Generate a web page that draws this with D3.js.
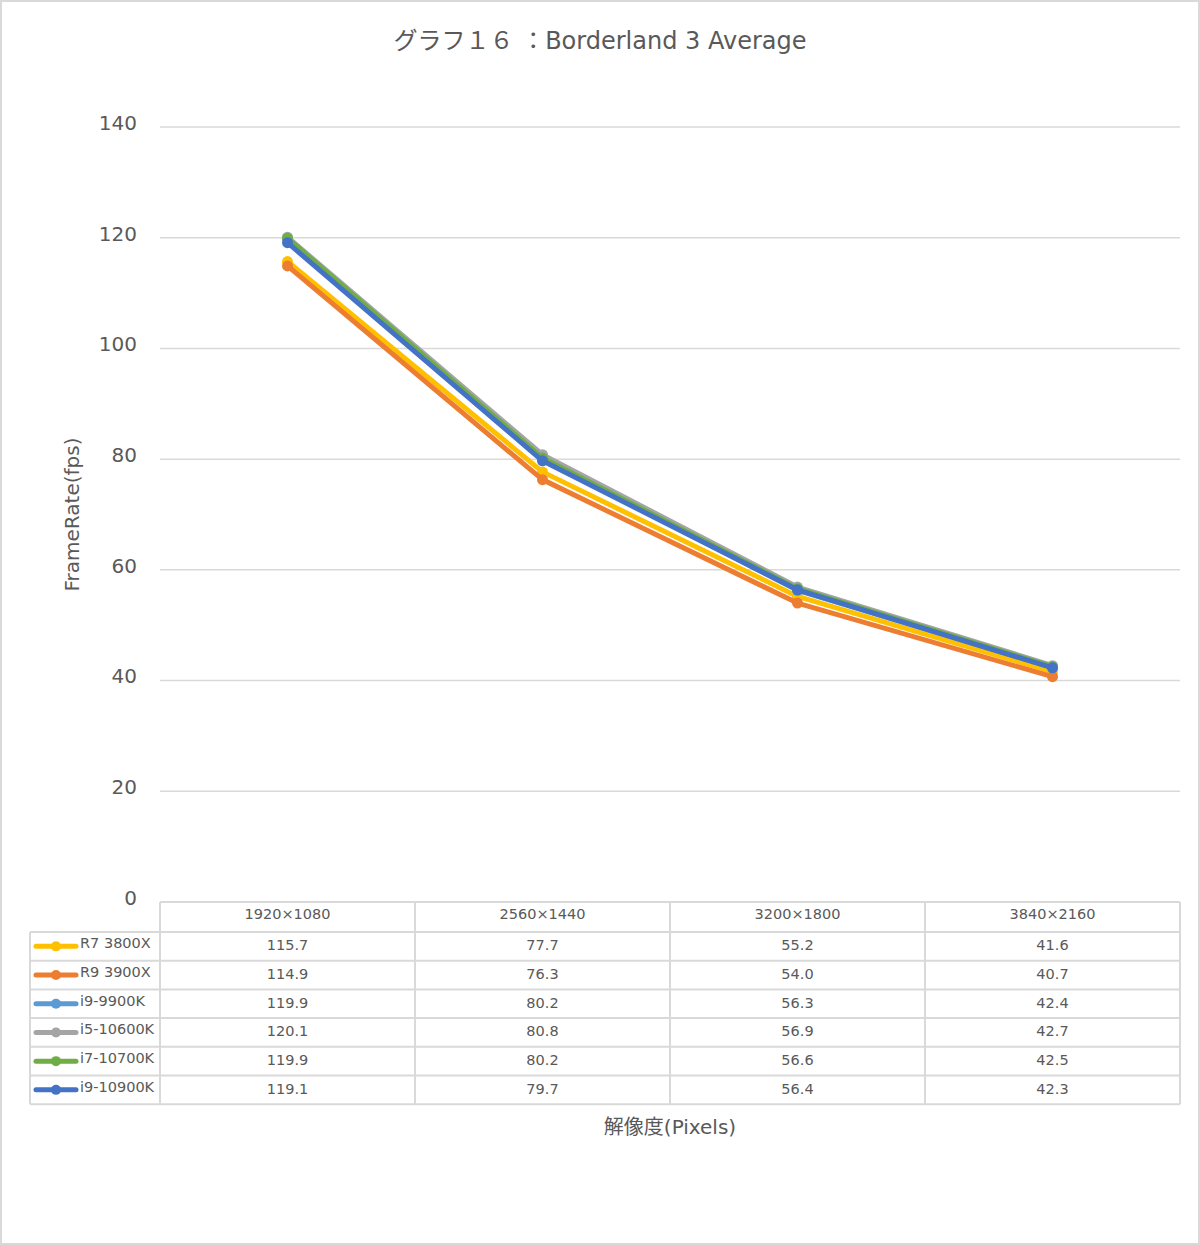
<!DOCTYPE html>
<html>
<head>
<meta charset="utf-8">
<script src="https://cdn.jsdelivr.net/npm/d3@7"></script>
<style>
  body { margin: 0; background: #fff; }
  text { font-family: "DejaVu Sans", "Noto Sans CJK JP", sans-serif; fill: #595959; }
</style>
</head>
<body>
<script>
// data
const resolutions = ["1920×1080", "2560×1440", "3200×1800", "3840×2160"];
const cpuNames = ["R7 3800X", "R9 3900X", "i9-9900K", "i5-10600K", "i7-10700K", "i9-10900K"];
const r7_3800x = [115.7, 77.7, 55.2, 41.6];
const r9_3900x = [114.9, 76.3, 54.0, 40.7];
const i9_9900k = [119.9, 80.2, 56.3, 42.4];
const i5_10600k = [120.1, 80.8, 56.9, 42.7];
const i7_10700k = [119.9, 80.2, 56.6, 42.5];
const i9_10900k = [119.1, 79.7, 56.4, 42.3];
const yTicks = [0, 20, 40, 60, 80, 100, 120, 140];
const colors = ["#FFC000", "#ED7D31", "#5B9BD5", "#A5A5A5", "#70AD47", "#4472C4"];

const series = cpuNames.map((name, i) => ({
    name: name,
    color: colors[i],
    values: [r7_3800x, r9_3900x, i9_9900k, i5_10600k, i7_10700k, i9_10900k][i]
}));

const canvWidth = 1200, canvHeight = 1245;
const svg = d3.select("body").append("svg")
    .attr("width", canvWidth)
    .attr("height", canvHeight);

// outer frame
svg.append("rect")
    .attr("x", 1).attr("y", 1)
    .attr("width", canvWidth - 2).attr("height", canvHeight - 2)
    .attr("fill", "#fff")
    .attr("stroke", "#d9d9d9")
    .attr("stroke-width", 2);

// plot area
const plot = {left: 160, right: 1180, top: 127, bottom: 902};

const xScale = d3.scaleBand()
    .domain(resolutions)
    .range([plot.left, plot.right]);

const yScale = d3.scaleLinear()
    .domain([0, 140])
    .range([plot.bottom, plot.top]);

// title
svg.append("text")
    .attr("x", 600)
    .attr("y", 49)
    .attr("font-size", "24px")
    .style("text-anchor", "middle")
    .text("グラフ１６ ：Borderland 3 Average");

// gridlines
svg.append("g")
    .selectAll("line")
    .data(yTicks.filter(d => d > 0))
    .enter().append("line")
    .attr("x1", plot.left).attr("x2", plot.right)
    .attr("y1", d => yScale(d)).attr("y2", d => yScale(d))
    .attr("stroke", "#d9d9d9")
    .attr("stroke-width", 1.5);

// y axis labels
const yAxis = d3.axisLeft(yScale).tickValues(yTicks).tickSize(0).tickPadding(23);
const yg = svg.append("g")
    .attr("transform", "translate(" + plot.left + ",-4)")
    .call(yAxis);
yg.select(".domain").remove();
yg.selectAll("text")
    .attr("font-size", "20px")
    .style("font-family", "DejaVu Sans, sans-serif")
    .attr("fill", "#595959");

// y axis title
svg.append("text")
    .attr("transform", "rotate(-90)")
    .attr("x", -(plot.top + plot.bottom) / 2)
    .attr("y", 79)
    .attr("font-size", "20px")
    .style("text-anchor", "middle")
    .text("FrameRate(fps)");

// lines
const line = d3.line()
    .x((d, i) => xScale(resolutions[i]) + xScale.bandwidth() / 2)
    .y(d => yScale(d));

const seriesG = svg.append("g").selectAll("g")
    .data(series)
    .enter().append("g");

seriesG.append("path")
    .attr("d", d => line(d.values))
    .attr("fill", "none")
    .attr("stroke", d => d.color)
    .attr("stroke-width", 5)
    .attr("stroke-linejoin", "round");

seriesG.selectAll("circle")
    .data(d => d.values.map(v => ({v: v, color: d.color})))
    .enter().append("circle")
    .attr("cx", (d, i) => xScale(resolutions[i]) + xScale.bandwidth() / 2)
    .attr("cy", d => yScale(d.v))
    .attr("r", 5.5)
    .attr("fill", d => d.color);

// data table
const tableLeft = 30;
const headerTop = plot.bottom;
const headerH = 30, rowH = 28.7;
const rowY = i => headerTop + headerH + i * rowH;
const tableBottom = rowY(cpuNames.length);
const table = svg.append("g");
const borderColor = "#d9d9d9";

// horizontal lines
table.append("line")
    .attr("x1", plot.left).attr("x2", plot.right)
    .attr("y1", headerTop).attr("y2", headerTop)
    .attr("stroke", borderColor).attr("stroke-width", 2);
table.selectAll(".hline")
    .data(d3.range(cpuNames.length + 1))
    .enter().append("line")
    .attr("x1", tableLeft).attr("x2", plot.right)
    .attr("y1", i => rowY(i)).attr("y2", i => rowY(i))
    .attr("stroke", borderColor).attr("stroke-width", 2);

// vertical lines
table.append("line")
    .attr("x1", tableLeft).attr("x2", tableLeft)
    .attr("y1", rowY(0)).attr("y2", tableBottom)
    .attr("stroke", borderColor).attr("stroke-width", 2);
table.selectAll(".vline")
    .data(resolutions.map(r => xScale(r)).concat([plot.right]))
    .enter().append("line")
    .attr("x1", d => d).attr("x2", d => d)
    .attr("y1", headerTop).attr("y2", tableBottom)
    .attr("stroke", borderColor).attr("stroke-width", 2);

// header labels
table.selectAll(".head")
    .data(resolutions)
    .enter().append("text")
    .attr("x", d => xScale(d) + xScale.bandwidth() / 2)
    .attr("y", headerTop + 17)
    .attr("font-size", "14.5px")
    .style("text-anchor", "middle")
    .text(d => d);

// rows
series.forEach((s, i) => {
    const cy = rowY(i) + rowH / 2;
    table.append("line")
        .attr("x1", 36).attr("x2", 76)
        .attr("y1", cy).attr("y2", cy)
        .attr("stroke", s.color)
        .attr("stroke-width", 5)
        .attr("stroke-linecap", "round");
    table.append("circle")
        .attr("cx", 56).attr("cy", cy).attr("r", 5)
        .attr("fill", s.color);
    table.append("text")
        .attr("x", 80)
        .attr("y", cy + 2)
        .attr("font-size", "14.5px")
        .text(s.name);
    table.selectAll(".val" + i)
        .data(s.values)
        .enter().append("text")
        .attr("x", (d, j) => xScale(resolutions[j]) + xScale.bandwidth() / 2)
        .attr("y", cy + 4)
        .attr("font-size", "14.5px")
        .style("text-anchor", "middle")
        .text(d => d.toFixed(1));
});

// x axis title
svg.append("text")
    .attr("x", (plot.left + plot.right) / 2)
    .attr("y", 1134)
    .attr("font-size", "20px")
    .style("text-anchor", "middle")
    .text("解像度(Pixels)");
</script>
</body>
</html>
